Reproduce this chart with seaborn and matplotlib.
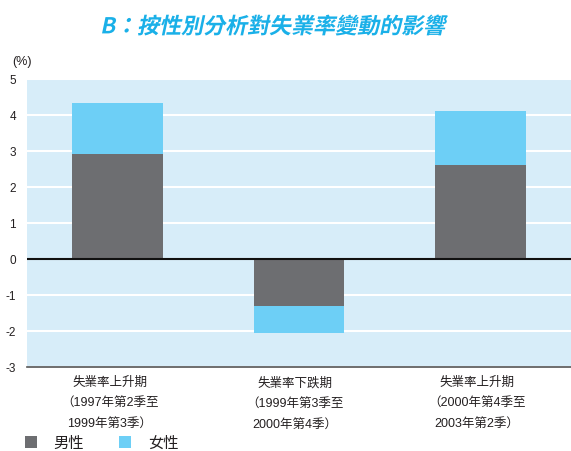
import matplotlib
matplotlib.use("Agg")
import matplotlib.pyplot as plt
import seaborn as sns
import pandas as pd
import numpy as np
from matplotlib.patches import Patch, PathPatch
from matplotlib.textpath import TextPath
from matplotlib.font_manager import FontProperties
from matplotlib.transforms import Affine2D, IdentityTransform

categories = ["失業率上升期\n（1997年第2季至\n1999年第3季）",
              "失業率下跌期\n（1999年第3季至\n2000年第4季）",
              "失業率上升期\n（2000年第4季至\n2003年第2季）"]
male = [2.92, -1.31, 2.62]
female = [1.40, -0.75, 1.50]
series_names = ["男性", "女性"]
yticks = [-3, -2, -1, 0, 1, 2, 3, 4, 5]
title = "B：按性別分析對失業率變動的影響"

sns.set_theme(style="white")
plt.rcParams['font.family'] = ['Liberation Sans', 'Noto Sans CJK TC', 'DejaVu Sans']

GRAY = "#6d6e71"
BLUE = "#6dcff6"
BG = "#d7edf9"
TXT = "#231f20"

W, H = 571, 452
fig = plt.figure(figsize=(W/100, H/100), dpi=100)
ax = fig.add_axes([27/W, (H-368)/H, 1-27/W, (368-80)/H])
ax.set_facecolor(BG)

df = pd.DataFrame({"cat": categories, "male": male, "female": female})
df["total"] = df["male"] + df["female"]

sns.barplot(data=df, x="cat", y="total", color=BLUE, width=0.5, saturation=1,
            linewidth=0, edgecolor="none", ax=ax, zorder=3)
sns.barplot(data=df, x="cat", y="male", color=GRAY, width=0.5, saturation=1,
            linewidth=0, edgecolor="none", ax=ax, zorder=4)

ax.set_ylim(-3, 5)
ax.set_xlim(-0.5, 2.5)
ax.set_yticks(yticks)
ax.set_yticklabels([str(t) for t in yticks], fontsize=8.5, color=TXT)
ax.yaxis.grid(True, color="white", linewidth=1.5, zorder=1)
ax.set_axisbelow(True)
ax.axhline(0, color="#111111", linewidth=1.5, zorder=5)
for s in ["top", "right", "left"]:
    ax.spines[s].set_visible(False)
ax.spines["bottom"].set_color("#555555")
ax.spines["bottom"].set_linewidth(1.2)
ax.tick_params(axis="y", length=0, pad=8)
ax.tick_params(axis="x", length=0)
ax.set_xlabel("")
ax.set_ylabel("")
ax.set_xticks(range(3))
ax.set_xticklabels([""] * 3)

# category labels (placed slightly left of bar centres, as in the reference)
label_px = [110, 295, 477]
for px, lab in zip(label_px, categories):
    fig.text(px/W, 1-377/H, lab, fontsize=9, color=TXT, ha="center", va="top",
             multialignment="center", linespacing=2.0)

fig.text(12/W, 1-62/H, "(%)", fontsize=9, color=TXT, va="center", ha="left")

# italic (skewed) bold title drawn as a text path in pixel coordinates
tp = TextPath((0, 0), title, size=22,
              prop=FontProperties(family="Noto Sans CJK TC", weight="bold"))
tp2 = Affine2D().skew_deg(12, 0).transform_path(tp)
bb2 = tp2.get_extents()
cx, cy = 275, H - 26
tp3 = Affine2D().translate(cx - (bb2.x0 + bb2.x1) / 2, cy - (bb2.y0 + bb2.y1) / 2).transform_path(tp2)
fig.patches.append(PathPatch(tp3, facecolor="#1ab0e8", edgecolor="none",
                             transform=IdentityTransform(), figure=fig))

handles = [Patch(facecolor=GRAY, edgecolor="none"), Patch(facecolor=BLUE, edgecolor="none")]
leg = fig.legend(handles, series_names, loc="center left", bbox_to_anchor=(25/W, 1-444/H),
                 ncol=2, frameon=False, fontsize=11, handlelength=0.78, handleheight=0.78,
                 columnspacing=2.3, handletextpad=1.1, borderaxespad=0, borderpad=0)
for t in leg.get_texts():
    t.set_color(TXT)

fig.savefig("out.png", dpi=100)
